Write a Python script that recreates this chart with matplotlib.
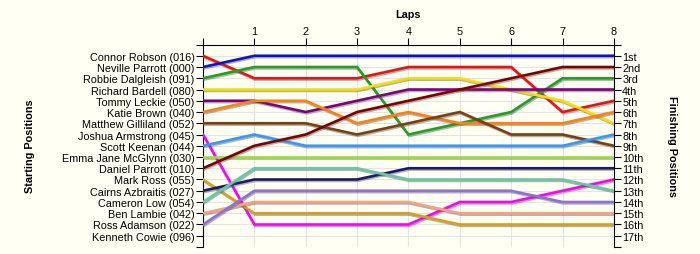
import matplotlib
matplotlib.use("Agg")
import matplotlib.pyplot as plt
import matplotlib.patheffects as pe

plt.rcParams['font.family'] = ['Liberation Sans', 'DejaVu Sans']

# starting order (position 1..17)
names = ["Connor Robson (016)", "Neville Parrott (000)", "Robbie Dalgleish (091)",
         "Richard Bardell (080)", "Tommy Leckie (050)", "Katie Brown (040)",
         "Matthew Gilliland (052)", "Joshua Armstrong (045)", "Scott Keenan (044)",
         "Emma Jane McGlynn (030)", "Daniel Parrott (010)", "Mark Ross (055)",
         "Cairns Azbraitis (027)", "Cameron Low (054)", "Ben Lambie (042)",
         "Ross Adamson (022)", "Kenneth Cowie (096)"]

laps = [0, 1, 2, 3, 4, 5, 6, 7, 8]

# position of each driver after each lap (lap 0 = grid)
positions = [
    [1, 3, 3, 3, 2, 2, 2, 6, 5],
    [2, 1, 1, 1, 1, 1, 1, 1, 1],
    [3, 2, 2, 2, 8, 7, 6, 3, 3],
    [4, 4, 4, 4, 3, 3, 4, 5, 7],
    [5, 5, 6, 5, 4, 4, 4, 4, 4],
    [6, 5, 5, 7, 6, 7, 7, 7, 6],
    [7, 7, 7, 8, 7, 6, 8, 8, 9],
    [8, 16, 16, 16, 16, 14, 14, 13, 12],
    [9, 8, 9, 9, 9, 9, 9, 9, 8],
    [10, 10, 10, 10, 10, 10, 10, 10, 10],
    [11, 9, 8, 6, 5, 4, 3, 2, 2],
    [12, 15, 15, 15, 15, 16, 16, 16, 16],
    [13, 12, 12, 12, 11, 11, 11, 11, 11],
    [14, 11, 11, 11, 12, 12, 12, 12, 13],
    [15, 14, 14, 14, 14, 15, 15, 15, 15],
    [16, 13, 13, 13, 13, 13, 13, 14, 14],
    None,
]

colors = ["#ee1111", "#1111cc", "#22a022", "#f5e000", "#800080", "#ff8010",
          "#7a4010", "#ff00ff", "#3399ff", "#99e033", "#800000", "#d4a020",
          "#1a1a6a", "#66c8a8", "#f8a080", "#9070d8", "#808080"]

finish_labels = ["1st", "2nd", "3rd"] + [f"{i}th" for i in range(4, 18)]

bg = "#fffff4"
fig = plt.figure(figsize=(7, 2.55), dpi=100, facecolor=bg)
ax = fig.add_axes([0.29, 0.0275, 0.587, 0.794])
ax.set_facecolor(bg)

shadow = [pe.SimpleLineShadow(offset=(0.6, -1.0), shadow_color="#555555", alpha=0.45),
          pe.Normal()]
for pos, c in zip(positions, colors):
    if pos is None:
        continue
    ax.plot(laps, pos, color=c, lw=1.9, solid_joinstyle="miter", path_effects=shadow, zorder=3)

ax.set_xlim(0, 8)
ax.set_ylim(18, 0)

# gridlines
for x in laps[1:]:
    ax.axvline(x, color="#e4e4e4", lw=0.8, zorder=1)
for y in range(1, 18):
    ax.axhline(y, color="#e4e4e4", lw=0.8, zorder=1)

ax.xaxis.tick_top()
ax.set_xticks(laps)
ax.set_xticklabels([""] + [str(l) for l in laps[1:]], fontsize=7.8)
ax.tick_params(axis="x", length=5, width=0.8, pad=1)

ax.set_yticks([0] + list(range(1, 18)) + [18])
ax.set_yticklabels([""] + names + [""], fontsize=7.8)
ax.tick_params(axis="y", length=5, width=0.8, pad=1)

for s in ["bottom", "right"]:
    ax.spines[s].set_visible(False)
ax.spines["top"].set_linewidth(0.8)
ax.spines["left"].set_linewidth(0.8)

ax2 = ax.twinx()
ax2.set_ylim(18, 0)
ax2.set_yticks([0] + list(range(1, 18)) + [18])
ax2.set_yticklabels([""] + finish_labels + [""], fontsize=7.8)
ax2.tick_params(axis="y", length=5, width=0.8, pad=1)
for s in ["bottom", "top", "left"]:
    ax2.spines[s].set_visible(False)
ax2.spines["right"].set_linewidth(0.8)

fig.text(0.583, 0.94, "Laps", ha="center", va="center", fontsize=7.8, fontweight="bold")
fig.text(0.043, 0.427, "Starting Positions", ha="center", va="center", rotation=90,
         fontsize=7.8, fontweight="bold")
fig.text(0.96, 0.427, "Finishing Positions", ha="center", va="center", rotation=270,
         fontsize=7.8, fontweight="bold")

fig.savefig("out.png", dpi=100, facecolor=bg)
